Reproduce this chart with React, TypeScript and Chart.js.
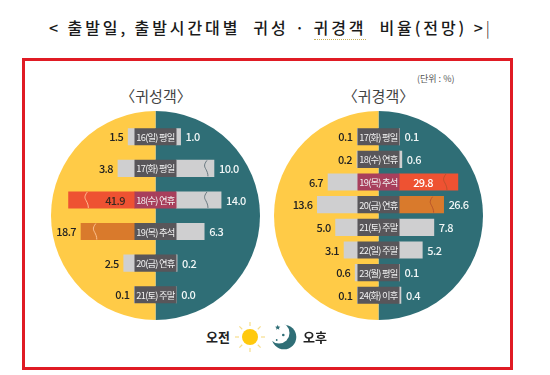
import React, { useEffect, useRef } from "react";
import { Chart, registerables } from "chart.js";

Chart.register(...registerables);

const outboundDays = ["16(일) 평일", "17(화) 평일", "18(수) 연휴", "19(목) 추석", "20(금) 연휴", "21(토) 주말"];
const outboundAm = [1.5, 3.8, 41.9, 18.7, 2.5, 0.1];
const outboundPm = [1.0, 10.0, 14.0, 6.3, 0.2, 0.0];
// lengths on the broken axis, as drawn in the picture
const outboundAmDrawn = [1.5, 3.8, 14.9, 12.1, 2.5, 0.1];
const outboundPmDrawn = [1.0, 8.5, 10.1, 6.3, 0.2, 0.01];
const outboundAmBreak = [null, null, 10.9, 9.0, null, null];
const outboundPmBreak = [null, 6.7, 6.7, null, null, null];

const returnDays = ["17(화) 평일", "18(수) 연휴", "19(목) 추석", "20(금) 연휴", "21(토) 주말", "22(일) 주말", "23(월) 평일", "24(화) 이후"];
const returnAm = [0.1, 0.2, 6.7, 13.6, 5.0, 3.1, 0.6, 0.1];
const returnPm = [0.1, 0.6, 29.8, 26.6, 7.8, 5.2, 0.1, 0.4];
const returnAmDrawn = [0.1, 0.2, 6.7, 9.1, 5.0, 3.1, 0.6, 0.1];
const returnPmDrawn = [0.1, 0.6, 13.2, 10.0, 7.8, 5.2, 0.1, 0.4];
const returnAmBreak = [null, null, null, null, null, null, null, null];
const returnPmBreak = [null, null, 10.3, 7.3, null, null, null, null];

const halfShares = [50, 50];
const halfNames = ["오후", "오전"];

const YELLOW = "#FFCB47";
const TEAL = "#2F6E76";
const GRAY = "#CFCFD0";
const BOX = "#58565A";
const CRIMSON = "#A83F5C";
const RED = "#EE5232";
const ORANGE = "#D97A2C";
const BOX_HALF = 4.65;
const AXIS = 23.5;
const FONT = '"Noto Sans CJK KR", "Noto Sans", sans-serif';

type Panel = {
  days: string[];
  am: number[];
  pm: number[];
  amDrawn: number[];
  pmDrawn: number[];
  amBreak: (number | null)[];
  pmBreak: (number | null)[];
  boxColors: string[];
  amColors: string[];
  pmColors: string[];
  amInside: (string | null)[];
  pmInside: (string | null)[];
  padTop: number;
  padBottom: number;
};

const outbound: Panel = {
  days: outboundDays, am: outboundAm, pm: outboundPm,
  amDrawn: outboundAmDrawn, pmDrawn: outboundPmDrawn,
  amBreak: outboundAmBreak, pmBreak: outboundPmBreak,
  boxColors: [BOX, BOX, CRIMSON, BOX, BOX, BOX],
  amColors: [GRAY, GRAY, RED, ORANGE, GRAY, GRAY],
  pmColors: [GRAY, GRAY, GRAY, GRAY, GRAY, GRAY],
  amInside: [null, null, "#3a2a20", null, null, null],
  pmInside: [null, null, null, null, null, null],
  padTop: 10,
  padBottom: 9.5,
};

const inbound: Panel = {
  days: returnDays, am: returnAm, pm: returnPm,
  amDrawn: returnAmDrawn, pmDrawn: returnPmDrawn,
  amBreak: returnAmBreak, pmBreak: returnPmBreak,
  boxColors: [BOX, BOX, CRIMSON, BOX, BOX, BOX, BOX, BOX],
  amColors: returnDays.map(() => GRAY),
  pmColors: [GRAY, GRAY, RED, ORANGE, GRAY, GRAY, GRAY, GRAY],
  amInside: returnDays.map(() => null),
  pmInside: [null, null, "#ffffff", null, null, null, null, null],
  padTop: 14.4,
  padBottom: 13.4,
};

function squiggle(ctx: CanvasRenderingContext2D, x: number, y: number, color: string) {
  ctx.save();
  ctx.strokeStyle = color;
  ctx.lineWidth = 0.9;
  ctx.beginPath();
  ctx.moveTo(x + 1, y - 8);
  ctx.bezierCurveTo(x - 3, y - 3, x - 1, y - 1, x, y + 1);
  ctx.bezierCurveTo(x + 1, y + 3, x + 2, y + 5, x + 2, y + 8);
  ctx.stroke();
  ctx.restore();
}

function panelPlugin(p: Panel) {
  return {
    id: "panelText",
    afterDatasetsDraw(chart: any) {
      const ctx: CanvasRenderingContext2D = chart.ctx;
      const x = chart.scales.x;
      const am = chart.getDatasetMeta(2).data;
      const pm = chart.getDatasetMeta(3).data;
      ctx.save();
      ctx.textBaseline = "middle";
      p.days.forEach((day, i) => {
        const yy = am[i].y;
        const ab = p.amBreak[i];
        if (ab !== null) squiggle(ctx, x.getPixelForValue(-BOX_HALF - ab), yy, p.amColors[i] === GRAY ? "#5E6E76" : "#FFC79A");
        const pb = p.pmBreak[i];
        if (pb !== null) squiggle(ctx, x.getPixelForValue(BOX_HALF + pb), yy, p.pmColors[i] === GRAY ? "#5E6E76" : "#B5502A");
        ctx.font = `400 9.3px ${FONT}`;
        (ctx as any).letterSpacing = "-0.75px";
        ctx.textAlign = "center";
        ctx.fillStyle = "#F2F2F2";
        ctx.fillText(day, x.getPixelForValue(0), yy + 0.5);
        ctx.font = `500 11px ${FONT}`;
        (ctx as any).letterSpacing = "-0.6px";
        const amIn = p.amInside[i];
        ctx.textAlign = "right";
        if (amIn) {
          ctx.fillStyle = amIn;
          ctx.fillText(p.am[i].toFixed(1), x.getPixelForValue(-BOX_HALF) - 10, yy + 0.5);
        } else {
          ctx.fillStyle = "#222222";
          ctx.fillText(p.am[i].toFixed(1), am[i].x - 5, yy + 0.5);
        }
        const pmIn = p.pmInside[i];
        ctx.textAlign = "left";
        if (pmIn) {
          ctx.fillStyle = pmIn;
          ctx.fillText(p.pm[i].toFixed(1), x.getPixelForValue(BOX_HALF) + 14, yy + 0.5);
        } else {
          ctx.fillStyle = "#F0F6F6";
          ctx.fillText(p.pm[i].toFixed(1), pm[i].x + 5, yy + 0.5);
        }
      });
      ctx.restore();
    },
  };
}

function makePie(el: HTMLCanvasElement) {
  return new Chart(el, {
    type: "pie",
    data: {
      labels: halfNames,
      datasets: [{ data: halfShares, backgroundColor: [TEAL, YELLOW], borderWidth: 0 }],
    },
    options: {
      animation: false,
      responsive: false,
      maintainAspectRatio: false,
      layout: { padding: 0 },
      plugins: { legend: { display: false }, tooltip: { enabled: false } },
    },
  });
}

function makeBars(el: HTMLCanvasElement, p: Panel) {
  const thickness = 16.5;
  return new Chart(el, {
    type: "bar",
    data: {
      labels: p.days,
      datasets: [
        { label: "boxL", data: p.days.map(() => -BOX_HALF), backgroundColor: p.boxColors, barThickness: thickness, borderWidth: 0 },
        { label: "boxR", data: p.days.map(() => BOX_HALF), backgroundColor: p.boxColors, barThickness: thickness, borderWidth: 0 },
        { label: "오전", data: p.amDrawn.map((v) => -v), backgroundColor: p.amColors, barThickness: thickness, borderWidth: 0 },
        { label: "오후", data: p.pmDrawn, backgroundColor: p.pmColors, barThickness: thickness, borderWidth: 0 },
      ],
    },
    options: {
      indexAxis: "y",
      animation: false,
      responsive: false,
      maintainAspectRatio: false,
      layout: { padding: { top: p.padTop, bottom: p.padBottom, left: 0, right: 0 } },
      scales: {
        x: { display: false, stacked: true, min: -AXIS, max: AXIS },
        y: { display: false, stacked: true },
      },
      plugins: { legend: { display: false }, tooltip: { enabled: false } },
    },
    plugins: [panelPlugin(p)],
  });
}

const abs = (left: number, top: number, extra: React.CSSProperties = {}): React.CSSProperties => ({
  position: "absolute",
  left,
  top,
  whiteSpace: "pre",
  fontFamily: FONT,
  lineHeight: 1,
  ...extra,
});

export default function App() {
  const pieA = useRef<HTMLCanvasElement>(null);
  const barA = useRef<HTMLCanvasElement>(null);
  const pieB = useRef<HTMLCanvasElement>(null);
  const barB = useRef<HTMLCanvasElement>(null);

  useEffect(() => {
    const charts = [
      makePie(pieA.current!),
      makeBars(barA.current!, outbound),
      makePie(pieB.current!),
      makeBars(barB.current!, inbound),
    ];
    return () => charts.forEach((c) => c.destroy());
  }, []);

  const canvasStyle = (left: number): React.CSSProperties => ({ position: "absolute", left, top: 111, width: 209, height: 209 });

  return (
    <div style={{ position: "absolute", left: 0, top: 0, width: 550, height: 375, background: "#fff", overflow: "hidden" }}>
      <div style={abs(49, 19, { fontSize: 16, fontWeight: 500, letterSpacing: 2.9, color: "#1a1a1a" })}>
        {"< 출발일, 출발시간대별  귀성 · "}
        <span style={{ borderBottom: "1px dotted #C9B25A" }}>귀경객</span>
        {"  비율(전망) >"}
        <span style={{ fontWeight: 300, letterSpacing: 0 }}>|</span>
      </div>
      <div style={{ position: "absolute", left: 22, top: 58, width: 485, height: 306, border: "3px solid #E01B24" }} />
      <div style={abs(156, 88, { transform: "translateX(-50%)", fontSize: 15, color: "#444" })}>〈귀성객〉</div>
      <div style={abs(378.5, 88, { transform: "translateX(-50%)", fontSize: 15, color: "#444" })}>〈귀경객〉</div>
      <div style={abs(417, 74, { fontSize: 9, color: "#555" })}>(단위 : %)</div>
      <canvas ref={pieA} width={209} height={209} style={canvasStyle(51)} />
      <canvas ref={barA} width={209} height={209} style={canvasStyle(51)} />
      <canvas ref={pieB} width={209} height={209} style={canvasStyle(274)} />
      <canvas ref={barB} width={209} height={209} style={canvasStyle(274)} />
      <div style={abs(206, 330, { fontSize: 13, fontWeight: 700, color: "#222" })}>오전</div>
      <div style={abs(303, 330, { fontSize: 13, fontWeight: 700, color: "#222" })}>오후</div>
      <svg style={{ position: "absolute", left: 234, top: 321 }} width={66} height={32} viewBox="0 0 66 32">
        <circle cx={16} cy={16} r={8} fill="#FFC90E" />
        {[0, 45, 90, 135, 180, 225, 270, 315].map((a) => (
          <line key={a} x1={16} y1={5} x2={16} y2={1} stroke="#F6DE8C" strokeWidth={1.2} transform={`rotate(${a} 16 16)`} />
        ))}
        <circle cx={50} cy={16} r={12.3} fill="#2F6E76" />
        <circle cx={45} cy={12} r={10.5} fill="#ffffff" />
        <path d="M43.7 3.8 L44.4 5.6 L46.3 5.7 L44.9 6.9 L45.3 8.7 L43.7 7.7 L42.1 8.7 L42.5 6.9 L41.1 5.7 L43 5.6 Z" fill="#2F6E76" />
        <circle cx={49.3} cy={14} r={1.3} fill="#2F6E76" />
        <circle cx={42.7} cy={19} r={0.9} fill="#2F6E76" />
      </svg>
    </div>
  );
}
